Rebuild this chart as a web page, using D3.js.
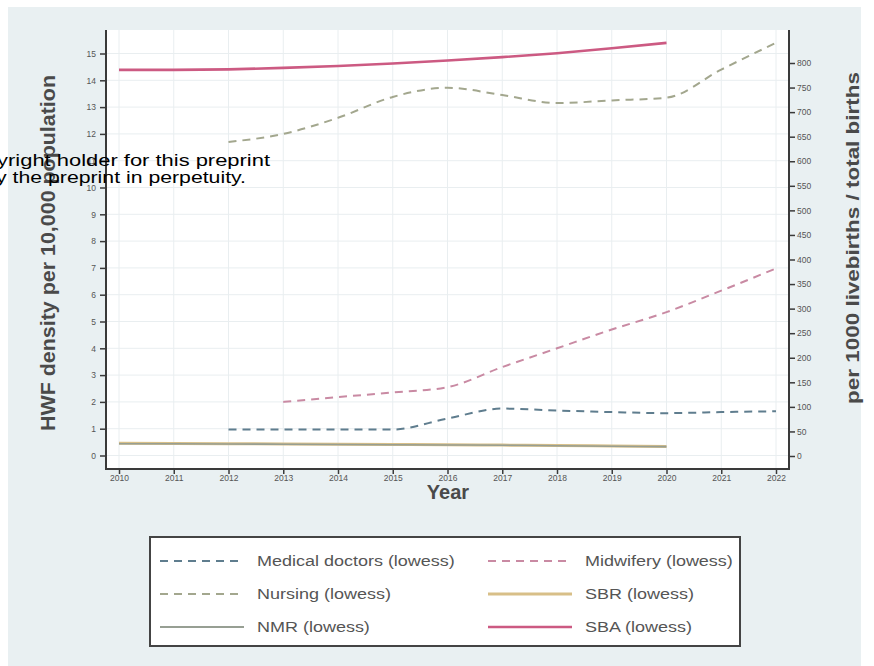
<!DOCTYPE html>
<html><head><meta charset="utf-8">
<script src="https://cdn.jsdelivr.net/npm/d3@7"></script>
<style>
html,body{margin:0;padding:0;background:#fff;}
svg{display:block;font-family:"Liberation Sans",Arial,sans-serif;}
</style></head>
<body>
<svg id="c" width="874" height="666"></svg>
<script>
// ---- data ----
const years = [2010,2011,2012,2013,2014,2015,2016,2017,2018,2019,2020,2021,2022];
const leftTicks = [0,1,2,3,4,5,6,7,8,9,10,11,12,13,14,15];
const rightTicks = [0,50,100,150,200,250,300,350,400,450,500,550,600,650,700,750,800];

const medicalYears = [2012,2013,2014,2015,2016,2017,2018,2019,2020,2021,2022];
const medicalVals  = [0.97,0.97,0.97,0.97,1.38,1.75,1.68,1.62,1.58,1.62,1.65];
const midwifeYears = [2013,2014,2015,2016,2017,2018,2019,2020,2021,2022];
const midwifeVals  = [2.0,2.18,2.35,2.55,3.3,4.0,4.7,5.35,6.15,6.98];
const nursingYears = [2012,2013,2014,2015,2016,2017,2018,2019,2020,2021,2022];
const nursingVals  = [11.7,12.0,12.6,13.38,13.72,13.45,13.15,13.25,13.35,14.4,15.4];
const sbrYears = [2010,2011,2012,2013,2014,2015,2016,2017,2018,2019,2020];
const sbrVals  = [26,25.5,25,24.5,24,23.5,23,22.2,21.5,20.5,19.5];
const nmrYears = [2010,2011,2012,2013,2014,2015,2016,2017,2018,2019,2020];
const nmrVals  = [25,24.8,24.5,24,23.5,23,22.5,22,21,20,19];
const sbaYears = [2010,2011,2012,2013,2014,2015,2016,2017,2018,2019,2020];
const sbaVals  = [786,786,787,790,794,799,805,812,820,830,841];

const legendLabels = ["Medical doctors (lowess)","Midwifery (lowess)","Nursing (lowess)","SBR (lowess)","NMR (lowess)","SBA (lowess)"];

// ---- layout ----
const svg = d3.select("#c");
const P = {l:106, r:789, t:30, b:469};
const x = d3.scaleLinear().domain([2010,2022]).range([119,776]);
const yL = d3.scaleLinear().domain([0,15]).range([455.5,53.5]);
const yR = d3.scaleLinear().domain([0,800]).range([456,63]);

svg.append("rect").attr("x",8).attr("y",7).attr("width",853).attr("height",659).attr("fill","#e9f0f2");
svg.append("rect").attr("x",P.l).attr("y",P.t).attr("width",P.r-P.l).attr("height",P.b-P.t).attr("fill","#fff");

// grid
const grid = svg.append("g").attr("stroke","#e9eef0").attr("stroke-width",1);
years.forEach(yr=>grid.append("line").attr("x1",x(yr)).attr("x2",x(yr)).attr("y1",P.t).attr("y2",P.b));
leftTicks.forEach(v=>grid.append("line").attr("x1",P.l).attr("x2",P.r).attr("y1",yL(v)).attr("y2",yL(v)));

// axes
const axisCol = "#3a3a3a";
const gx = svg.append("g").attr("transform",`translate(0,${P.b})`)
  .call(d3.axisBottom(x).tickValues(years).tickFormat(d3.format("d")).tickSize(5).tickPadding(1));
const gl = svg.append("g").attr("transform",`translate(${P.l},0)`)
  .call(d3.axisLeft(yL).tickValues(leftTicks).tickSize(6).tickPadding(4));
const gr = svg.append("g").attr("transform",`translate(${P.r},0)`)
  .call(d3.axisRight(yR).tickValues(rightTicks).tickSize(6).tickPadding(2));
[gx,gl,gr].forEach(g=>{
  g.select(".domain").remove();
  g.selectAll(".tick line").attr("stroke",axisCol).attr("stroke-width",1.5);
  g.selectAll(".tick text").attr("fill","#555").style("font-size","8.5px");
});
svg.append("line").attr("x1",P.l).attr("x2",P.l).attr("y1",P.t).attr("y2",P.b+1).attr("stroke",axisCol).attr("stroke-width",2);
svg.append("line").attr("x1",P.r).attr("x2",P.r).attr("y1",P.t).attr("y2",P.b+1).attr("stroke",axisCol).attr("stroke-width",2);
svg.append("line").attr("x1",P.l-1).attr("x2",P.r+1).attr("y1",P.b).attr("y2",P.b).attr("stroke",axisCol).attr("stroke-width",2);

// series
const styles = {
  med:{c:"#5f7d8e",d:"8,6",w:2},
  mid:{c:"#c98aa3",d:"8,6",w:2},
  nur:{c:"#a3a78e",d:"8,6",w:2},
  sbr:{c:"#d8bf88",d:null,w:3},
  nmr:{c:"#979f93",d:null,w:1.6},
  sba:{c:"#cc5a82",d:null,w:2.6}
};
function draw(ys,vs,scale,st){
  const line = d3.line().curve(d3.curveMonotoneX).x((d,i)=>x(ys[i])).y(d=>scale(d));
  const p = svg.append("path").datum(vs).attr("d",line).attr("fill","none")
    .attr("stroke",st.c).attr("stroke-width",st.w);
  if(st.d) p.attr("stroke-dasharray",st.d);
}
draw(sbrYears,sbrVals,yR,styles.sbr);
draw(nmrYears,nmrVals,yR,styles.nmr);
draw(sbaYears,sbaVals,yR,styles.sba);
draw(medicalYears,medicalVals,yL,styles.med);
draw(midwifeYears,midwifeVals,yL,styles.mid);
draw(nursingYears,nursingVals,yL,styles.nur);

// axis titles
svg.append("text").attr("transform","translate(55,253) rotate(-90)").attr("text-anchor","middle")
  .attr("fill","#4a4a4a").style("font-size","20px").style("font-weight","bold")
  .attr("textLength",356).attr("lengthAdjust","spacingAndGlyphs").text("HWF density per 10,000 population");
svg.append("text").attr("transform","translate(859,238) rotate(-90)").attr("text-anchor","middle")
  .attr("fill","#4a4a4a").style("font-size","19px").style("font-weight","bold")
  .attr("textLength",332).attr("lengthAdjust","spacingAndGlyphs").text("per 1000 livebirths / total births");
svg.append("text").attr("x",448).attr("y",499).attr("text-anchor","middle")
  .attr("fill","#4a4a4a").style("font-size","20px").style("font-weight","bold").text("Year");

// legend
svg.append("rect").attr("x",150).attr("y",537).attr("width",590).attr("height",109)
  .attr("fill","#fff").attr("stroke","#444").attr("stroke-width",2);
const legKeys = ["med","mid","nur","sbr","nmr","sba"];
legKeys.forEach((k,i)=>{
  const col = i%2, row = Math.floor(i/2);
  const lx = col===0?160:488, ty = 561+row*33;
  const st = styles[k];
  const ln = svg.append("line").attr("x1",lx).attr("x2",lx+84).attr("y1",ty).attr("y2",ty)
    .attr("stroke",st.c).attr("stroke-width",k==="nmr"?2:st.w);
  if(st.d) ln.attr("stroke-dasharray",st.d);
  svg.append("text").attr("transform",`translate(${lx+97},${ty+5}) scale(1.2,1)`).attr("fill","#555")
    .style("font-size","15px").text(legendLabels[i]);
});

// overlay watermark text
svg.append("text").attr("transform","translate(270,166) scale(1.29,1)").attr("text-anchor","end").attr("fill","#000")
  .style("font-size","17px").text("The copyright holder for this preprint");
svg.append("text").attr("transform","translate(246,183) scale(1.25,1)").attr("text-anchor","end").attr("fill","#000")
  .style("font-size","17px").text("medRxiv a license to display the preprint in perpetuity.");
</script>
</body></html>
